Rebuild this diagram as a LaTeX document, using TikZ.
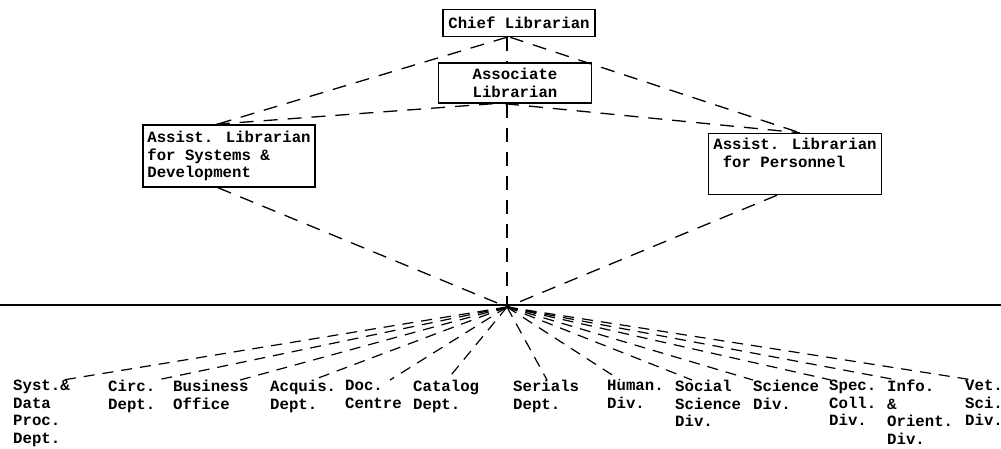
\documentclass[tikz,border=0pt]{standalone}
\usepackage{fontspec}
\setmainfont{Liberation Mono}
\usepackage{tikz}

\newcommand\typew{\fontsize{15.7}{17.5}\selectfont\bfseries}
\tikzset{
	box/.style={draw, line width=1.4pt, fill=white, inner sep=4pt, font=\typew},
	link/.style={line width=1.3pt, dash pattern=on 14pt off 10pt},
	fan/.style={line width=1.2pt, dash pattern=on 11pt off 8pt},
	dept/.style={anchor=north west, inner sep=0pt, font=\typew, align=left, execute at begin node=\strut},
}

\begin{document}
\begin{tikzpicture}[x=1pt, y=-1pt]
			\useasboundingbox (0,0) rectangle (1001,448);
			
			\node[box, minimum width=152pt, minimum height=27pt] (chief) at (519, 23) {Chief Librarian};
			\node[box, align=center, minimum width=153pt, minimum height=40pt] (assoc) at (515, 83) {Associate\\Librarian};
			\node[box, align=left, minimum width=172pt, minimum height=62pt] (sys) at (229, 156) {Assist. Librarian\\for Systems \&\\Development};
			\node[box, align=left, minimum width=173pt, minimum height=61pt] (pers) at (795, 164) {Assist. Librarian\\\hspace*{0.6em}for Personnel\\\strut};
			\coordinate (hub) at (507, 307);
			
			\draw[line width=1.4pt] (0, 305) -- (1001, 305);
			
			\draw[link] ([xshift=-12pt]chief.south) -- ([xshift=-12pt]sys.north);
			\draw[link] ([xshift=-9pt]chief.south) -- ([xshift=5pt]pers.north);
			\draw[link] ([xshift=-22pt]assoc.south) -- ([xshift=-14pt]sys.north);
			\draw[link] ([xshift=-10pt]assoc.south) -- ([xshift=5pt]pers.north);
			\draw[link] ([xshift=-12pt]chief.south) -- ([xshift=-8pt]assoc.north);
			\draw[link] ([xshift=-8pt]assoc.south) -- (hub);
			\draw[link] ([xshift=-11pt]sys.south) -- (hub);
			\draw[link] ([xshift=-18pt]pers.south) -- (hub);
			
			\foreach \x/\n/\t/\d in {13/syst/{Syst.\&\\Data\\Proc.\\Dept.}/50, 108/circ/{Circ.\\Dept.}/49,
				173/busi/{Business\\Office}/67, 270/acqu/{Acquis.\\Dept.}/43, 345/doc/{Doc.\\Centre}/45,
				413/cata/{Catalog\\Dept.}/34, 513/seri/{Serials\\Dept.}/34, 607/huma/{Human.\\Div.}/13,
				675/soci/{Social\\Science\\Div.}/17, 753/scie/{Science\\Div.}/0, 829/spec/{Spec.\\Coll.\\Div.}/2,
				887/info/{Info.\\\&\\Orient.\\Div.}/10, 965/vet/{Vet.\\Sci.\\Div.}/8}
			{
				\node[dept] (\n) at (\x, 380) {\t};
				\draw[fan] (hub) -- ([xshift=\d pt]\n.north west);
			}
		\end{tikzpicture}
\end{document}
